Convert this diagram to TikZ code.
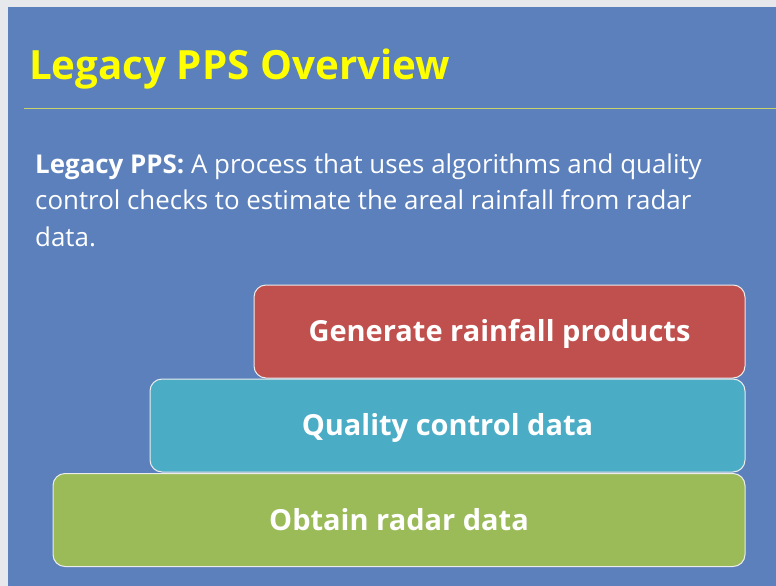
\documentclass[tikz,border=0pt]{standalone}
\usepackage{fontspec}
\setmainfont{Open Sans}
\usepackage{tikz}
\usetikzlibrary{positioning}
\definecolor{slide}{HTML}{5B80BB}
\definecolor{rand}{HTML}{E6E8EC}
\definecolor{gelb}{HTML}{FFFF00}
\definecolor{linie}{HTML}{C9D36A}
\definecolor{rot}{HTML}{C0504D}
\definecolor{tuerkis}{HTML}{4BACC6}
\definecolor{gruen}{HTML}{9BBB59}

\begin{document}
\begin{tikzpicture}[x=1pt, y=-1pt,
        stufe/.style={draw=white!85!gray, line width=1pt, rounded corners=12pt,
                      minimum height=93pt, inner sep=0pt, text=white,
                      text height=21pt, text depth=1pt,
                      font=\fontsize{29}{34}\selectfont\bfseries},
        titel/.style={anchor=base west, text=gelb, inner sep=0pt,
                      font=\fontsize{40.3}{48}\selectfont\bfseries},
        absatz/.style={anchor=base west, text=white, align=left, inner sep=0pt,
                       font=\fontsize{25.9}{36.5}\selectfont}
      ]
      \useasboundingbox (0,0) rectangle (776,586);
      \fill[rand] (0,0) rectangle (776,586);
      \fill[slide] (8,7) rectangle (776,586);

      \node[titel] (kopf) at (29,80) {Legacy PPS Overview};
      \draw[linie, line width=0.8pt] (24,108) -- (776,108);

      % base = Grundlinie der letzten Zeile
      \node[absatz] (text) at (35,246)
        {\textbf{Legacy PPS:} A process that uses algorithms and quality\\
         control checks to estimate the areal rainfall from radar\\
         data.};

      \node[stufe, fill=rot,     minimum width=491pt] (produkte) at (499.5,331.5) {Generate rainfall products};
      \node[stufe, fill=tuerkis, minimum width=595pt] (pruefung) at (447.5,425.5) {Quality control data};
      \node[stufe, fill=gruen,   minimum width=692pt] (radar)    at (399,520)     {Obtain radar data};
    \end{tikzpicture}
\end{document}
